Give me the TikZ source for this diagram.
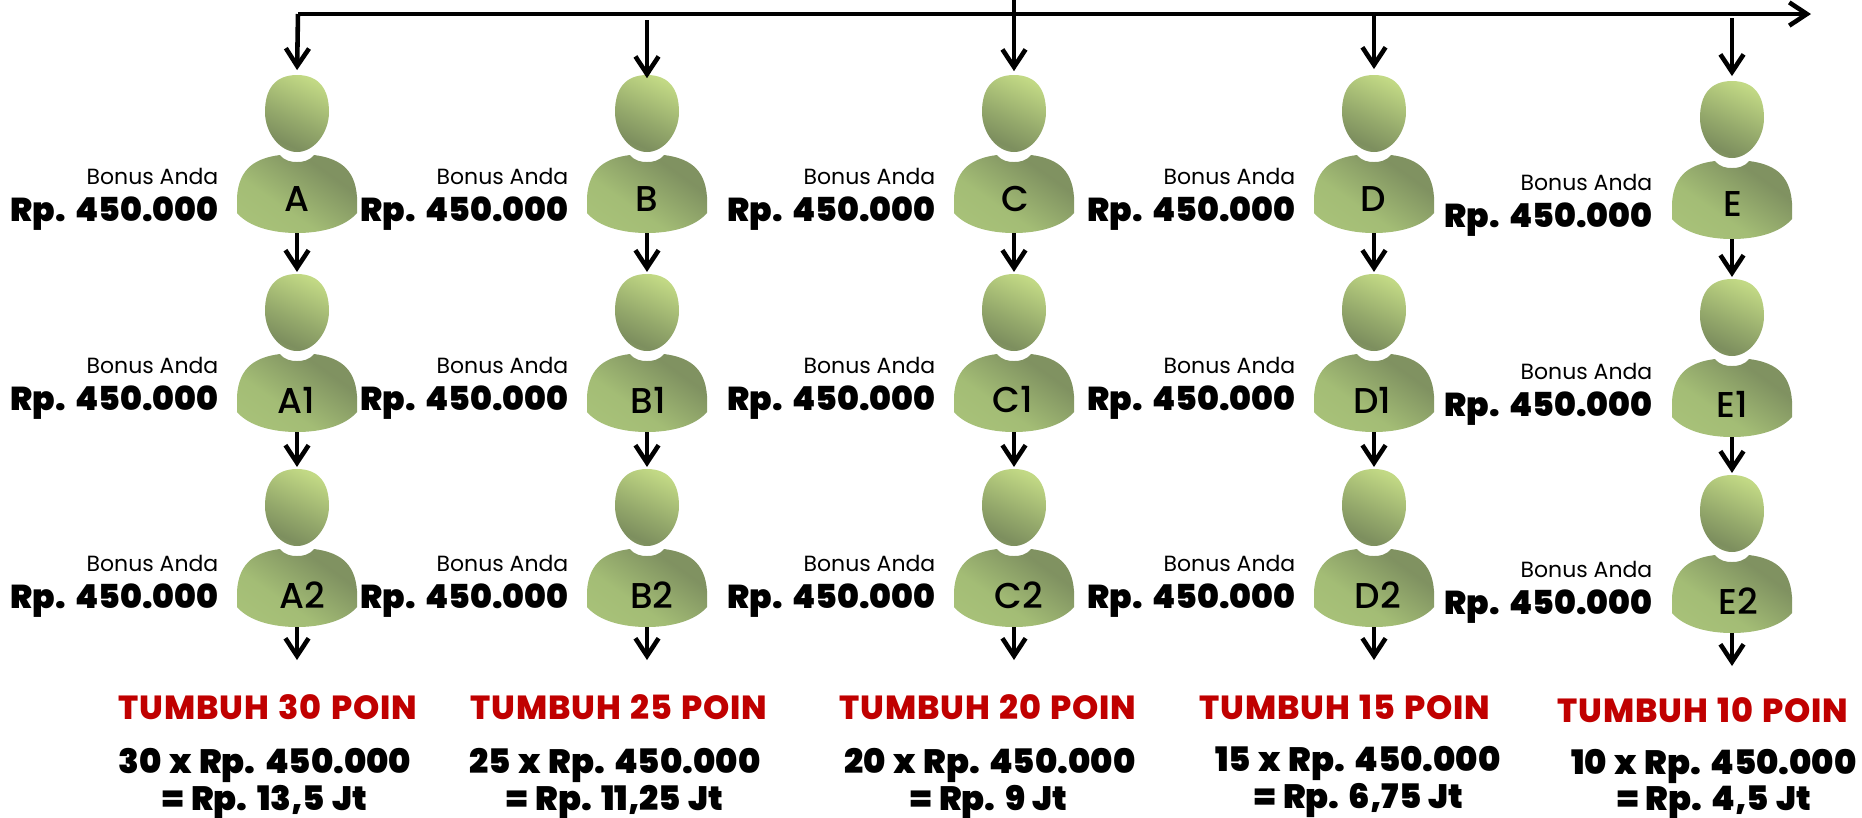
\documentclass[tikz,border=0pt]{standalone}
\usepackage{fontspec}
\setmainfont{Poppins}[BoldFont={Poppins Black}, BoldFeatures={WordSpace=1.3}]
\newfontfamily\lettermedium{Poppins Medium}
\newfontfamily\poinfont{Poppins ExtraBold}[LetterSpace=2.5, WordSpace=1.3]
\usetikzlibrary{arrows.meta}

\definecolor{poinred}{RGB}{192,0,0}
\pgfdeclareverticalshading{headshade}{100bp}{
  rgb(0bp)=(0.62,0.71,0.45); rgb(28bp)=(0.49,0.56,0.37); rgb(45bp)=(0.58,0.66,0.42); rgb(75bp)=(0.76,0.85,0.52); rgb(100bp)=(0.76,0.85,0.52)}
\pgfdeclareverticalshading{bodyshade}{100bp}{
  rgb(0bp)=(0.68,0.78,0.49); rgb(40bp)=(0.64,0.74,0.46); rgb(68bp)=(0.50,0.57,0.38); rgb(100bp)=(0.52,0.59,0.39)}

\tikzset{
  flow/.style={-{Straight Barb[length=5pt,width=6.6pt]}, line width=1.3pt},
  mainline/.style={flow},
  bonus/.style={anchor=base east, font=\fontsize{6.25}{8}\selectfont, inner sep=0pt},
  rupiah/.style={anchor=base east, font=\fontsize{9.4}{11}\bfseries\selectfont, inner sep=0pt},
  letter/.style={font=\fontsize{10.2}{12}\lettermedium, inner sep=0pt},
  poin/.style={anchor=base, text=poinred, font=\fontsize{9.5}{11}\poinfont, inner sep=0pt},
  total/.style={anchor=base, font=\fontsize{9.6}{11}\bfseries\selectfont, inner sep=0pt},
  pics/person/.style={code={
    \shade[shading=headshade, shading angle=-25] (0,0)
      .. controls (22,0) and (32,14) .. (32,37)
      .. controls (32,58) and (17,77) .. (0,77)
      .. controls (-17,77) and (-32,58) .. (-32,37)
      .. controls (-32,14) and (-22,0) .. (0,0) -- cycle;
    \shade[shading=bodyshade, shading angle=-35] (-17,80)
      .. controls (-12,86) and (-6,87) .. (0,87)
      .. controls (6,87) and (12,86) .. (17,80)
      .. controls (40,83) and (58,92) .. (60,122)
      -- (60,138)
      .. controls (48,152) and (24,158) .. (0,158)
      .. controls (-24,158) and (-48,152) .. (-60,138)
      -- (-60,122)
      .. controls (-58,92) and (-40,83) .. (-17,80) -- cycle;
    \coordinate (-top) at (0,0);
    \coordinate (-bottom) at (0,158);
    \coordinate (-end) at (0,191);
  }}
}

\begin{document}
\begin{tikzpicture}[x=0.01cm, y=-0.01cm]
  \useasboundingbox (0,0) rectangle (1862,817);

  % people, letters and bonus labels
  \foreach \name/\xpos/\ypos/\lx/\ly/\rx/\ry in {
    A/297/75/297/199/219/184, A1/297/274/296/400/219/373, A2/297/469/302/595/219/571,
    B/647/75/647/199/569/184, B1/647/274/648/400/569/373, B2/647/469/652/595/569/571,
    C/1014/75/1015/199/936/184, C1/1014/274/1013/400/936/373, C2/1014/469/1019/595/936/571,
    D/1374/75/1373/199/1296/184, D1/1374/274/1372/400/1296/373, D2/1374/469/1378/595/1296/571,
    E/1732/81/1733/204/1653/190, E1/1732/279/1732/404/1653/379, E2/1732/475/1738/601/1653/577}
  {
    \pic (\name) at (\xpos,\ypos) {person};
    \node[letter] (label\name) at (\lx,\ly) {\name};
    \node[bonus] (bonus\name) at (\rx,\ry) {Bonus Anda};
    \node[rupiah] (rp\name) at (\rx,\ry+37) {Rp. 450.000};
  }

  % top line and the arrows hanging from it
  \coordinate (lineStart) at (298,14);
  \coordinate (lineEnd) at (1811,14);
  \draw[mainline] (lineStart) -- (lineEnd);
  \foreach \name/\xpos/\ystart/\gap in {A/298/14/1.4, B/647/20/-0.9, C/1014/0/1.1, D/1374/12/1.7, E/1732/18/1.4}
  {
    \coordinate (in\name) at (\xpos,\ystart);
    \draw[flow, shorten >=\gap pt] (in\name) -- (\name-top);
  }

  % arrows down each column
  \foreach \name in {A,B,C,D,E}
  {
    \draw[flow, shorten >=0.6pt] (\name-bottom) -- (\name1-top);
    \draw[flow, shorten >=0.6pt] (\name1-bottom) -- (\name2-top);
    \draw[flow] (\name2-bottom) -- (\name2-end);
  }

  % results under each column
  \foreach \name/\px/\py/\pts/\tx/\ty/\totx/\toty/\sum in {
    A/268/719/30/265/773/265/810/13{,}5, B/619/719/25/615/773/615/810/11{,}25,
    C/988/719/20/990/773/989/810/9, D/1345/719/15/1358/771/1359/808/6{,}75,
    E/1703/722/10/1714/774/1714/810/4{,}5}
  {
    \node[poin] (poin\name) at (\px,\py) {TUMBUH \pts{} POIN};
    \node[total] (times\name) at (\tx,\ty) {\pts{} x Rp. 450.000};
    \node[total] (sum\name) at (\totx,\toty) {= Rp. \sum{} Jt};
  }
\end{tikzpicture}
\end{document}
